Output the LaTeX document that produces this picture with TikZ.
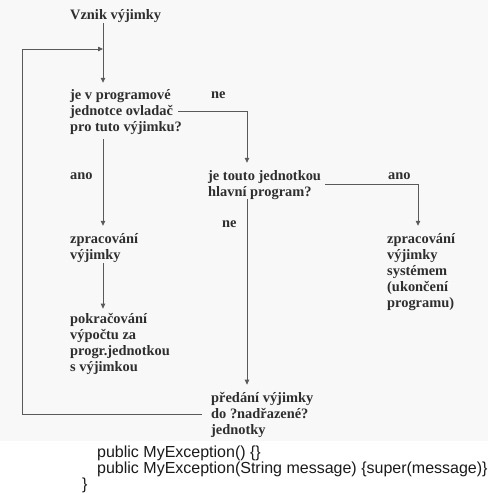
\documentclass[tikz,border=0pt]{standalone}
\usepackage{fontspec}
\setmainfont{Liberation Serif}
\newfontfamily\codefont{Liberation Sans}
\usetikzlibrary{arrows.meta}
\definecolor{txt}{HTML}{2E2E2E}
\definecolor{ln}{HTML}{5A5A5A}
\definecolor{bg}{HTML}{F8F8F8}
\definecolor{codetxt}{HTML}{1A1A1A}
\tikzset{
  lbl/.style={anchor=base west, inner sep=0pt, align=left, text=txt,
    font=\fontsize{14.4}{16}\selectfont\bfseries},
  codeline/.style={anchor=base west, inner sep=0pt, text=codetxt,
    font=\fontsize{16}{16}\selectfont\codefont},
  conn/.style={draw=ln, line width=0.8pt, -{Triangle[length=5pt,width=4.5pt]}}
}
\begin{document}
\begin{tikzpicture}[x=1pt,y=-1pt]
\useasboundingbox (0,0) rectangle (488,493);
\fill[bg] (0,0) rectangle (488,441);
% labels (placed by the baseline of their last line)
\node[lbl] (start) at (70,19.5) {Vznik výjimky};
\node[lbl] (q1) at (70,131) {je v programové\\jednotce ovladač\\pro tuto výjimku?};
\node[lbl] (ne1) at (211,98) {ne};
\node[lbl] (ano1) at (70,179) {ano};
\node[lbl] (q2) at (208,196) {je touto jednotkou\\hlavní program?};
\node[lbl] (ano2) at (388,179) {ano};
\node[lbl] (ne2) at (222,227) {ne};
\node[lbl] (proc) at (70,259) {zpracování\\výjimky};
\node[lbl] (sys) at (387,307) {zpracování\\výjimky\\systémem\\(ukončení\\programu)};
\node[lbl] (cont) at (70,371) {pokračování\\výpočtu za\\progr.jednotkou\\s výjimkou};
\node[lbl] (pass) at (211,434) {předání výjimky\\do ?nadřazené?\\jednotky};
% code
\node[codeline] (c1) at (97,457) {public MyException() \{\}};
\node[codeline] (c2) at (97,473) {public MyException(String message) \{super(message)\}};
\node[codeline] (c3) at (82,489) {\}};
% guide coordinates
\coordinate (xa) at (103,0);
\coordinate (xb) at (247,0);
\coordinate (xc) at (418,0);
\coordinate (xq) at (178,0);
\coordinate (loop) at (22,49);
\coordinate (join) at (103,49);
% connectors
\draw[conn, shorten >=6pt] (start.south -| xa) -- (q1.north -| xa);
\draw[conn, shorten >=7pt] (q1.east -| xq) -| (q2.north -| xb);
\draw[conn, shorten <=5pt, shorten >=7pt] (q1.south -| xa) -- (proc.north -| xa);
\draw[conn, shorten <=1pt, shorten >=4pt] (proc.south -| xa) -- (cont.north -| xa);
\draw[conn, shorten <=4pt, shorten >=7pt] (q2.east) -| (sys.north -| xc);
\draw[conn, shorten >=7pt] (q2.south -| xb) -- (pass.north -| xb);
\draw[conn, shorten <=9pt] (pass.west) -- (pass.west -| loop) -- (loop) -- (join);
\end{tikzpicture}
\end{document}
